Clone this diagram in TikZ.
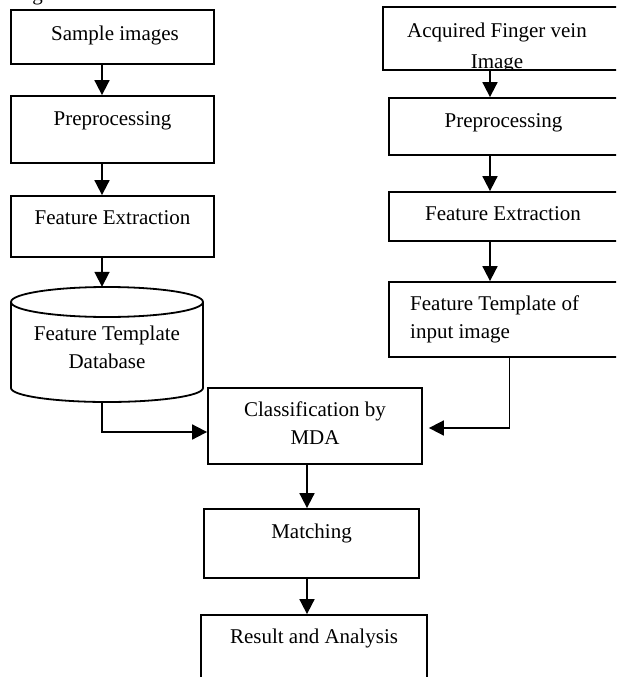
\documentclass[tikz,border=0pt]{standalone}
\usepackage{fontspec}
\setmainfont{Liberation Serif}
\usetikzlibrary{arrows.meta}

\begin{document}
\begin{tikzpicture}[x=1pt,y=-1pt,
		box/.style={draw, line width=1.8pt, inner sep=0pt},
		txt/.style={font=\fontsize{21}{28}\selectfont, anchor=base, align=center, inner sep=0pt},
		arr/.style={line width=1.8pt, -{Triangle[length=15pt,width=15pt]}}]
		\path[use as bounding box, clip] (0,0) rectangle (616,677);
		\node[txt] (cap) at (37.5,0.5) {g};
		% left column
		\node[box, minimum width=203, minimum height=54] (sample) at (112.5,37) {};
		\node[box, minimum width=203, minimum height=67] (prepL) at (112.5,129.5) {};
		\node[box, minimum width=203, minimum height=61] (featL) at (112.5,226.5) {};
		\node[minimum width=192, minimum height=115, inner sep=0pt] (dbase) at (107,344.5) {};
		\draw[line width=1.8pt] (107,302) ellipse [x radius=96pt, y radius=15pt];
		\draw[line width=1.8pt] (11,302) -- (11,388) arc[start angle=180, end angle=360, x radius=96pt, y radius=14pt] -- (203,302);
		\node[txt] (sampleT) at (115,41) {Sample images};
		\node[txt] (prepLT) at (112.5,125) {Preprocessing};
		\node[txt] (featLT) at (112.5,224) {Feature Extraction};
		\node[txt] (dbaseT) at (107,368) {Feature Template\\Database};
		% right column
		\node[box, minimum width=247, minimum height=63] (acq) at (506.5,38.5) {};
		\node[box, minimum width=241, minimum height=57] (prepR) at (509.5,126.5) {};
		\node[box, minimum width=241, minimum height=49] (featR) at (509.5,216.5) {};
		\node[box, minimum width=241, minimum height=75] (ftin) at (509.5,319.5) {};
		\begin{scope}
			\clip (acq.north west) rectangle (acq.south east);
			\node[txt] (acqT) at (497,68) {Acquired Finger vein\\[3pt]Image};
		\end{scope}
		\node[txt] (prepRT) at (503.5,127) {Preprocessing};
		\node[txt] (featRT) at (503,220) {Feature Extraction};
		\node[txt, anchor=base west, align=left] (ftinT) at (410,338) {Feature Template of\\input image};
		% middle
		\node[box, minimum width=214, minimum height=76] (class) at (315,426) {};
		\node[box, minimum width=215, minimum height=69] (match) at (311.5,543.5) {};
		\node[box, minimum width=226, minimum height=90] (result) at (314,660) {};
		\node[txt] (classT) at (315,444) {Classification by\\MDA};
		\node[txt] (matchT) at (311.5,538) {Matching};
		\node[txt] (resultT) at (314,643) {Result and Analysis};
		% arrows
		\coordinate (colL) at (102,0);
		\coordinate (colR) at (490,0);
		\coordinate (colC) at (307,0);
		\draw[arr] (sample.south -| colL) -- (prepL.north -| colL);
		\draw[arr] (prepL.south -| colL) -- (featL.north -| colL);
		\draw[arr] (featL.south -| colL) -- (dbase.north -| colL);
		\draw[arr] (dbase.south -| colL) |- ([yshift=-6pt]class.west);
		\draw[arr] (acq.south -| colR) -- (prepR.north -| colR);
		\draw[arr] (prepR.south -| colR) -- (featR.north -| colR);
		\draw[arr] (featR.south -| colR) -- (ftin.north -| colR);
		\draw[arr] (ftin.south) |- ([xshift=6pt,yshift=-2pt]class.east);
		\draw[arr] (class.south -| colC) -- (match.north -| colC);
		\draw[arr] (match.south -| colC) -- (result.north -| colC);
\end{tikzpicture}
\end{document}
